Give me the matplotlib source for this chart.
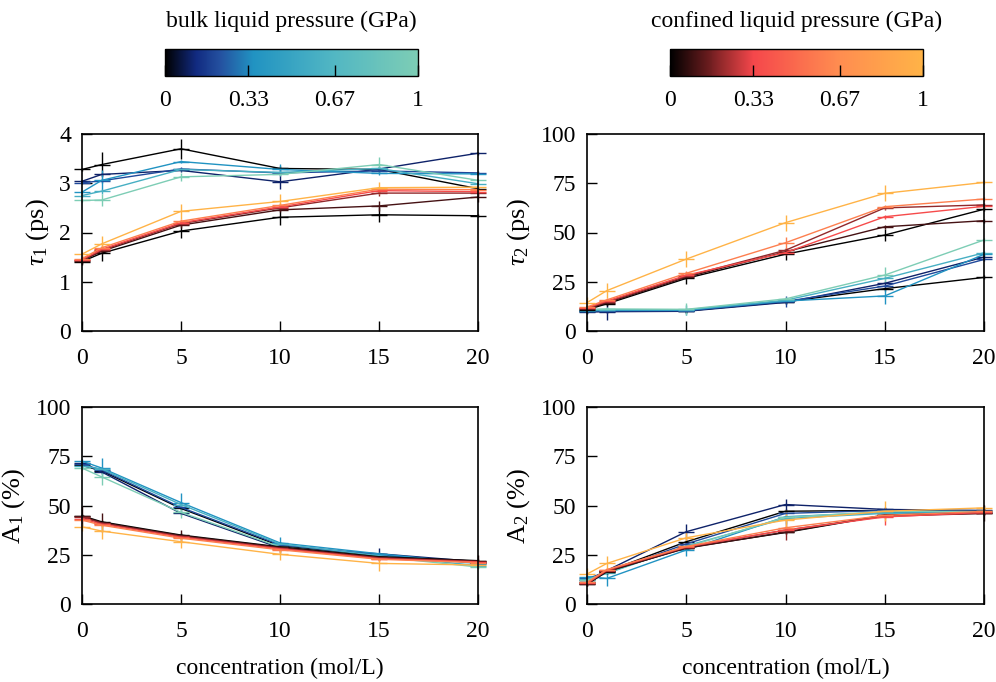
import numpy as np
import matplotlib
matplotlib.use("Agg")
import matplotlib.pyplot as plt
from matplotlib.colors import LinearSegmentedColormap, Normalize
from matplotlib.cm import ScalarMappable

plt.rcParams['font.family'] = ['Liberation Serif', 'DejaVu Serif']
plt.rcParams['mathtext.fontset'] = 'custom'
plt.rcParams['mathtext.rm'] = 'Liberation Serif'
plt.rcParams['mathtext.it'] = 'Liberation Serif:italic'
plt.rcParams['font.size'] = 17

# ---- data -------------------------------------------------------------
concentration = [0, 1, 5, 10, 15, 20]          # mol/L
pressure = [0.0, 0.1, 0.2, 0.35, 0.6, 1.0]     # GPa (one series per pressure)

# tau_1 (ps)
tau1_bulk = [
    [3.28, 3.38, 3.70, 3.30, 3.28, 2.89],
    [3.04, 3.18, 3.26, 3.03, 3.29, 3.61],
    [3.01, 3.05, 3.29, 3.21, 3.25, 3.21],
    [2.82, 3.06, 3.44, 3.28, 3.20, 3.19],
    [2.75, 2.84, 3.28, 3.22, 3.30, 2.99],
    [2.65, 2.66, 3.13, 3.18, 3.38, 3.06],
]
tau1_bulk_err = [
    [0.03, 0.25, 0.20, 0.05, 0.05, 0.03],
    [0.03, 0.03, 0.03, 0.15, 0.03, 0.03],
    [0.03, 0.05, 0.03, 0.03, 0.03, 0.03],
    [0.03, 0.20, 0.03, 0.12, 0.03, 0.03],
    [0.03, 0.05, 0.03, 0.03, 0.05, 0.03],
    [0.03, 0.12, 0.08, 0.03, 0.15, 0.03],
]
tau1_conf = [
    [1.41, 1.58, 2.03, 2.31, 2.36, 2.34],
    [1.43, 1.62, 2.15, 2.46, 2.54, 2.72],
    [1.44, 1.64, 2.18, 2.50, 2.80, 2.80],
    [1.45, 1.66, 2.20, 2.52, 2.85, 2.83],
    [1.47, 1.69, 2.23, 2.55, 2.88, 2.87],
    [1.56, 1.77, 2.43, 2.63, 2.91, 2.92],
]
tau1_conf_err = [
    [0.05, 0.15, 0.15, 0.15, 0.15, 0.03],
    [0.10, 0.05, 0.05, 0.05, 0.10, 0.10],
    [0.05, 0.05, 0.05, 0.05, 0.05, 0.05],
    [0.05, 0.05, 0.05, 0.05, 0.05, 0.05],
    [0.05, 0.05, 0.05, 0.05, 0.05, 0.05],
    [0.05, 0.15, 0.15, 0.15, 0.12, 0.03],
]

# tau_2 (ps)
tau2_bulk = [
    [10.0, 10.0, 10.2, 14.8, 21.5, 27.2],
    [9.6, 9.8, 10.0, 14.5, 24.2, 37.5],
    [10.0, 10.2, 10.3, 15.0, 22.8, 36.3],
    [10.3, 10.5, 10.5, 15.2, 17.8, 38.9],
    [10.5, 10.8, 10.8, 15.6, 26.7, 39.7],
    [11.0, 11.2, 11.0, 16.3, 28.4, 46.2],
]
tau2_bulk_err = [
    [1.0, 1.0, 1.0, 1.0, 1.0, 1.0],
    [1.0, 4.0, 1.0, 1.0, 1.0, 1.0],
    [1.0, 1.0, 1.0, 3.0, 1.0, 1.0],
    [1.0, 1.0, 2.5, 1.0, 4.0, 1.0],
    [1.0, 1.0, 1.0, 1.0, 1.0, 1.0],
    [1.0, 1.0, 3.0, 1.0, 4.0, 1.0],
]
tau2_conf = [
    [10.8, 13.8, 26.7, 39.0, 48.7, 61.8],
    [11.2, 14.3, 27.3, 40.2, 52.9, 56.0],
    [11.5, 14.8, 27.8, 41.0, 62.5, 64.0],
    [11.8, 15.2, 28.3, 39.8, 58.0, 63.3],
    [12.2, 15.8, 29.3, 44.8, 63.1, 67.0],
    [14.4, 20.5, 36.5, 55.0, 69.9, 75.4],
]
tau2_conf_err = [
    [1.0, 1.0, 3.0, 3.0, 3.0, 1.0],
    [1.0, 1.0, 1.0, 1.0, 1.0, 1.0],
    [1.0, 1.0, 1.0, 1.0, 1.0, 1.0],
    [1.0, 1.0, 1.0, 1.0, 1.0, 1.0],
    [1.0, 1.0, 1.0, 3.0, 1.0, 1.0],
    [3.0, 4.0, 4.0, 4.0, 4.0, 1.0],
]

# A_1 (%)
a1_bulk = [
    [70.4, 67.5, 48.5, 29.5, 24.5, 21.0],
    [71.5, 67.0, 46.0, 28.5, 25.5, 21.5],
    [71.0, 68.0, 49.0, 30.0, 25.0, 21.0],
    [72.5, 69.0, 51.5, 31.0, 25.5, 20.5],
    [70.0, 68.5, 50.5, 30.5, 24.5, 19.5],
    [69.0, 64.5, 46.5, 29.0, 24.0, 18.8],
]
a1_bulk_err = [
    [2.0, 1.0, 1.0, 1.0, 1.0, 1.0],
    [1.0, 1.0, 1.0, 1.0, 3.0, 1.0],
    [1.0, 1.0, 1.0, 1.0, 1.0, 1.0],
    [1.0, 5.0, 5.0, 3.0, 1.0, 1.0],
    [1.0, 1.0, 1.0, 1.0, 1.0, 1.0],
    [1.0, 4.0, 3.0, 1.0, 1.0, 1.0],
]
a1_conf = [
    [44.8, 41.7, 35.0, 29.0, 24.0, 22.0],
    [44.5, 41.3, 34.7, 28.7, 23.7, 21.8],
    [44.0, 41.0, 34.3, 28.3, 23.4, 21.5],
    [43.3, 40.5, 33.9, 28.0, 23.0, 21.3],
    [42.6, 40.0, 33.4, 27.5, 22.7, 21.0],
    [39.2, 37.0, 31.6, 25.2, 20.6, 19.8],
]
a1_conf_err = [
    [1.0, 1.0, 1.0, 1.0, 1.0, 1.0],
    [5.0, 5.0, 3.0, 3.0, 1.0, 3.0],
    [1.0, 1.0, 1.0, 1.0, 1.0, 1.0],
    [1.0, 1.0, 1.0, 1.0, 1.0, 1.0],
    [1.0, 1.0, 1.0, 1.0, 1.0, 1.0],
    [2.0, 4.0, 3.0, 3.0, 4.0, 1.0],
]

# A_2 (%)
a2_bulk = [
    [11.0, 16.5, 31.6, 47.1, 47.5, 47.0],
    [12.0, 17.0, 36.7, 50.5, 48.0, 47.5],
    [13.0, 16.0, 30.5, 46.0, 47.5, 46.8],
    [13.9, 13.0, 27.4, 44.3, 46.5, 46.5],
    [12.5, 15.5, 29.5, 43.4, 46.0, 46.5],
    [12.0, 16.0, 29.0, 44.0, 47.0, 47.0],
]
a2_bulk_err = [
    [1.0, 1.0, 1.0, 1.0, 1.0, 1.0],
    [1.0, 1.0, 4.0, 3.0, 1.0, 1.0],
    [1.0, 1.0, 1.0, 1.0, 1.0, 1.0],
    [1.0, 4.0, 3.0, 1.0, 1.0, 1.0],
    [1.0, 1.0, 1.0, 3.0, 1.0, 1.0],
    [1.0, 1.0, 1.0, 1.0, 1.0, 1.0],
]
a2_conf = [
    [10.0, 16.4, 28.5, 36.3, 45.0, 46.0],
    [10.2, 16.6, 28.3, 36.5, 45.2, 46.2],
    [10.5, 17.0, 28.8, 37.5, 44.5, 46.0],
    [10.5, 17.2, 29.0, 37.5, 44.2, 46.5],
    [11.0, 17.5, 29.2, 38.7, 45.0, 47.0],
    [15.2, 20.6, 33.6, 42.6, 47.1, 48.8],
]
a2_conf_err = [
    [1.0, 1.0, 1.0, 1.0, 1.0, 1.0],
    [1.0, 1.0, 1.0, 1.0, 1.0, 4.0],
    [1.0, 1.0, 1.0, 5.0, 1.0, 1.0],
    [1.0, 1.0, 1.0, 1.0, 4.0, 1.0],
    [1.0, 1.0, 1.0, 1.0, 1.0, 1.0],
    [3.0, 4.0, 3.0, 5.0, 5.0, 1.0],
]

cbar_ticks = [0, 0.33, 0.67, 1]
cbar_ticklabels = ['0', '0.33', '0.67', '1']

# ---- colour maps ------------------------------------------------------
bulk_cmap = LinearSegmentedColormap.from_list('bulk', [
    (0.0, '#000000'), (0.12, '#112a80'), (0.22, '#2451a0'),
    (0.35, '#2193c2'), (0.67, '#52b7c3'), (1.0, '#7dcdb5')])
conf_cmap = LinearSegmentedColormap.from_list('confined', [
    (0.0, '#000000'), (0.15, '#6a1c1e'), (0.33, '#f5474b'),
    (0.67, '#ff8d50'), (1.0, '#ffb347')])

# ---- figure -----------------------------------------------------------
fig = plt.figure(figsize=(9.96, 6.82), dpi=100)

W, H = 996.0, 682.0
def rect(x0, y0, x1, y1):
    return [x0 / W, 1 - y1 / H, (x1 - x0) / W, (y1 - y0) / H]

ax_t1 = fig.add_axes(rect(82, 134, 478, 331))
ax_t2 = fig.add_axes(rect(587, 134, 984, 331))
ax_a1 = fig.add_axes(rect(82, 407, 478, 604))
ax_a2 = fig.add_axes(rect(587, 407, 984, 604))


def draw(ax, bulk, bulk_err, conf, conf_err):
    for vals, errs, cmap in ((bulk, bulk_err, bulk_cmap),
                             (conf, conf_err, conf_cmap)):
        for p, y, e in zip(pressure, vals, errs):
            cont = ax.errorbar(concentration, y, yerr=e, color=cmap(p),
                               lw=1.0, elinewidth=1.0, capsize=0,
                               marker='_', ms=11, mew=1.0)
            for art in cont.get_children():
                art.set_clip_on(False)


def style(ax, ylim, yticks, ylabel, xlabel=None):
    ax.set_xlim(0, 20)
    ax.set_ylim(*ylim)
    ax.set_xticks([0, 5, 10, 15, 20])
    ax.set_yticks(yticks)
    ax.tick_params(direction='in', length=7, width=1.0, top=False,
                   right=False, labelsize=17)
    ax.tick_params(axis='x', pad=12)
    ax.tick_params(axis='y', pad=8)
    for s in ax.spines.values():
        s.set_linewidth(1.2)
        s.set_color('black')
    ax.set_ylabel(ylabel, fontsize=19, labelpad=6)
    if xlabel:
        ax.set_xlabel(xlabel, fontsize=17, labelpad=12)


draw(ax_t1, tau1_bulk, tau1_bulk_err, tau1_conf, tau1_conf_err)
draw(ax_t2, tau2_bulk, tau2_bulk_err, tau2_conf, tau2_conf_err)
draw(ax_a1, a1_bulk, a1_bulk_err, a1_conf, a1_conf_err)
draw(ax_a2, a2_bulk, a2_bulk_err, a2_conf, a2_conf_err)

style(ax_t1, (0, 4), [0, 1, 2, 3, 4], r'$\tau_1$ (ps)')
style(ax_t2, (0, 100), [0, 25, 50, 75, 100], r'$\tau_2$ (ps)')
style(ax_a1, (0, 100), [0, 25, 50, 75, 100], r'A$_1$ (%)',
      'concentration (mol/L)')
style(ax_a2, (0, 100), [0, 25, 50, 75, 100], r'A$_2$ (%)',
      'concentration (mol/L)')

# ---- colour bars ------------------------------------------------------
for r, cmap, title in ((rect(165, 49, 418, 76), bulk_cmap,
                        'bulk liquid pressure (GPa)'),
                       (rect(670, 49, 923, 76), conf_cmap,
                        'confined liquid pressure (GPa)')):
    cax = fig.add_axes(r)
    sm = ScalarMappable(norm=Normalize(0, 1), cmap=cmap)
    cb = fig.colorbar(sm, cax=cax, orientation='horizontal')
    cb.set_ticks(cbar_ticks)
    cb.set_ticklabels(cbar_ticklabels)
    cb.outline.set_linewidth(1.0)
    cax.tick_params(direction='in', length=8, width=1.0, labelsize=17,
                    pad=10, bottom=True, top=False)
    cax.set_title(title, fontsize=17, pad=16)

fig.savefig('out.png', dpi=100)
